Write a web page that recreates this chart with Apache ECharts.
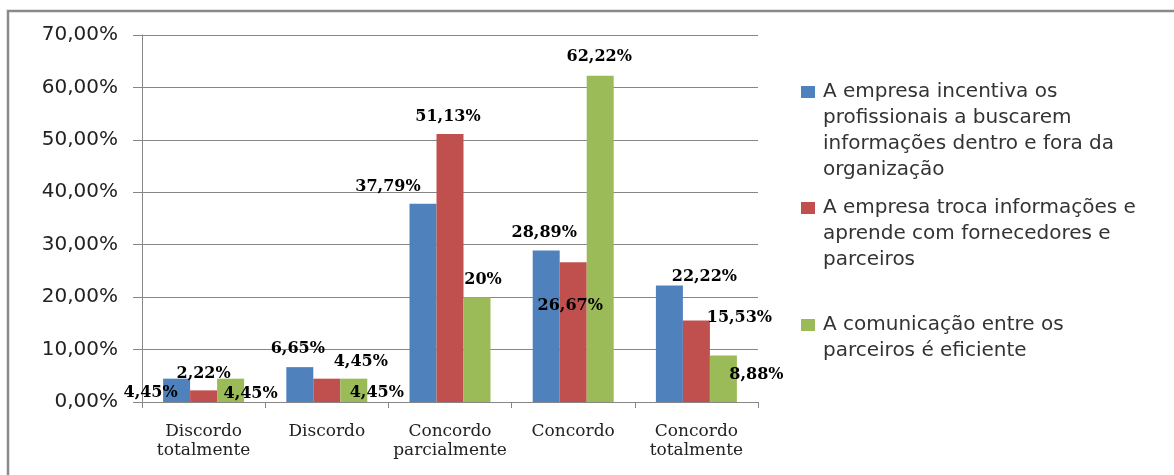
<!DOCTYPE html>
<html>
<head>
<meta charset="utf-8">
<script src="https://cdn.jsdelivr.net/npm/echarts@6/dist/echarts.min.js"></script>
<style>
  html, body { margin: 0; padding: 0; background: #fff; }
  #chart { width: 1174px; height: 475px; }
</style>
</head>
<body>
<div id="chart"></div>
<script>
var categories = ["Discordo\ntotalmente", "Discordo", "Concordo\nparcialmente", "Concordo", "Concordo\ntotalmente"];

var seriesNames = [
  "A empresa incentiva os profissionais a buscarem informações dentro e fora da organização",
  "A empresa troca informações e aprende com fornecedores e parceiros",
  "A comunicação entre os parceiros é eficiente"
];
// legend text as it wraps in the picture
var legendLines = [
  "A empresa incentiva os\nprofissionais a buscarem\ninformações dentro e fora da\norganização",
  "A empresa troca informações e\naprende com fornecedores e\nparceiros",
  "A comunicação entre os\nparceiros é eficiente"
];

var incentiva = [4.45, 6.65, 37.79, 28.89, 22.22];
var troca = [2.22, 4.45, 51.13, 26.67, 15.53];
var comunicacao = [4.45, 4.45, 20, 62.22, 8.88];

var yMin = 0, yMax = 70, yStep = 10;

// hand placed data labels (dx, dy from the top of each bar), like in the original
var blueOffsets = [[-26, 23], [-2, -9], [-35, -8], [-2, -9], [35, 0]];
var redOffsets = [[0, -8], [34, -8], [-2, -8], [-3, 53], [43, 6]];
var greenOffsets = [[20, 24], [23, 23], [6, -8], [-1, -10], [33, 28]];

var colors = ["#4F81BD", "#C0504D", "#9BBB59"];

function pct(v) {
  return String(v).replace(".", ",") + "%";
}

function withOffsets(values, offsets) {
  return values.map(function (v, i) {
    return { value: v, label: { offset: offsets[i] } };
  });
}

function makeSeries(name, values, offsets, color) {
  return {
    name: name,
    type: "bar",
    barWidth: 27,
    barGap: "0%",
    data: withOffsets(values, offsets),
    itemStyle: { color: color },
    label: {
      show: true,
      position: "top",
      distance: 0,
      formatter: function (p) { return pct(p.value); },
      fontFamily: "DejaVu Serif",
      fontWeight: "bold",
      fontSize: 16,
      lineHeight: 18,
      color: "#000"
    }
  };
}

// legend squares sit on the first text line
function iconPath(h) {
  return "path://M0 0L17 0M0 7h14v12h-14zM0 " + h + "L17 " + h;
}

function makeLegend(i, top, h) {
  return {
    left: 801,
    top: top,
    padding: 0,
    itemWidth: 17,
    itemHeight: h,
    data: [{ name: seriesNames[i], icon: iconPath(h) }],
    formatter: function () { return legendLines[i]; },
    itemStyle: { borderWidth: 0 },
    textStyle: {
      fontFamily: "DejaVu Sans",
      fontSize: 20,
      lineHeight: 26,
      color: "#333"
    },
    selectedMode: false
  };
}

var myChart = echarts.init(document.getElementById("chart"));

var option = {
  animation: false,
  backgroundColor: "#fff",
  graphic: [
    {
      type: "rect",
      shape: { x: 8, y: 11, width: 1200, height: 500 },
      style: { fill: "none", stroke: "#8a8a8a", lineWidth: 2.5 },
      silent: true
    }
  ],
  legend: [
    makeLegend(0, 79, 104),
    makeLegend(1, 195, 78),
    makeLegend(2, 312, 52)
  ],
  grid: { left: 142, right: 416, top: 35, bottom: 73 },
  xAxis: {
    type: "category",
    data: categories,
    axisLine: { lineStyle: { color: "#868686", width: 1 } },
    axisTick: { show: true, length: 6, lineStyle: { color: "#868686" } },
    axisLabel: {
      interval: 0,
      margin: 20,
      fontFamily: "DejaVu Serif",
      fontSize: 17,
      lineHeight: 19,
      color: "#222"
    }
  },
  yAxis: {
    type: "value",
    min: yMin,
    max: yMax,
    interval: yStep,
    axisLine: { show: true, lineStyle: { color: "#868686", width: 1 } },
    axisTick: { show: true, length: 9, lineStyle: { color: "#868686" } },
    splitLine: { lineStyle: { color: "#868686", width: 1 } },
    axisLabel: {
      margin: 24,
      fontFamily: "DejaVu Sans",
      fontSize: 20,
      color: "#222",
      formatter: function (v) { return v.toFixed(2).replace(".", ",") + "%"; }
    }
  },
  series: [
    makeSeries(seriesNames[0], incentiva, blueOffsets, colors[0]),
    makeSeries(seriesNames[1], troca, redOffsets, colors[1]),
    makeSeries(seriesNames[2], comunicacao, greenOffsets, colors[2])
  ]
};

myChart.setOption(option);
</script>
</body>
</html>
